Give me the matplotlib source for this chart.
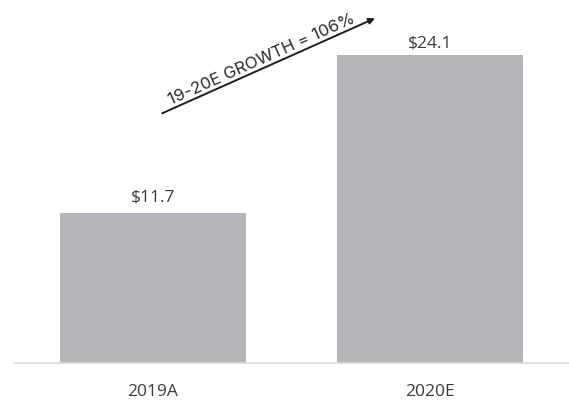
import matplotlib.pyplot as plt

# revenue by year ($)
years = ["2019A", "2020E"]
revenue = [11.7, 24.1]
growth_label = "19-20E GROWTH = 106%"

bar_color = "#b3b5b8"
text_color = "#3b3b3b"

fig = plt.figure(figsize=(5.69, 4.05), dpi=100)
ax = fig.add_axes([14 / 569, 0.1044, 1 - 14 / 569, 0.883])

x = range(len(years))
bars = ax.bar(x, revenue, width=0.669, color=bar_color, zorder=2)

# value labels above the bars
for rect, val, pad in zip(bars, revenue, [8.3, 5.3]):
    ax.annotate(f"${val}", (rect.get_x() + rect.get_width() / 2, val),
                xytext=(0, pad), textcoords="offset points",
                ha="center", va="baseline", fontsize=12.5,
                family="Open Sans", color=text_color)

ax.set_xlim(-0.5, 1.5)
ax.set_ylim(0, 28)
ax.set_xticks(list(x))
ax.set_xticklabels(years, fontsize=12.5, family="Open Sans", color=text_color)
ax.tick_params(axis="x", length=0, pad=15)
ax.set_yticks([])
for side in ["top", "right", "left"]:
    ax.spines[side].set_visible(False)
ax.spines["bottom"].set_color("#d9d9d9")
ax.spines["bottom"].set_linewidth(1.2)

# growth arrow between the two years
ax.annotate("", xy=(0.801, 26.97), xytext=(0.034, 19.53),
            arrowprops=dict(arrowstyle="-|>", color="#1e1e1e", lw=1.4,
                            mutation_scale=9, shrinkA=0, shrinkB=0))
ax.text(0.403, 23.19, growth_label, rotation=24.1, rotation_mode="anchor",
        ha="center", va="bottom", fontsize=12.2, family="Inter",
        color="#2a2a2a")

fig.savefig("out.png", dpi=100)
